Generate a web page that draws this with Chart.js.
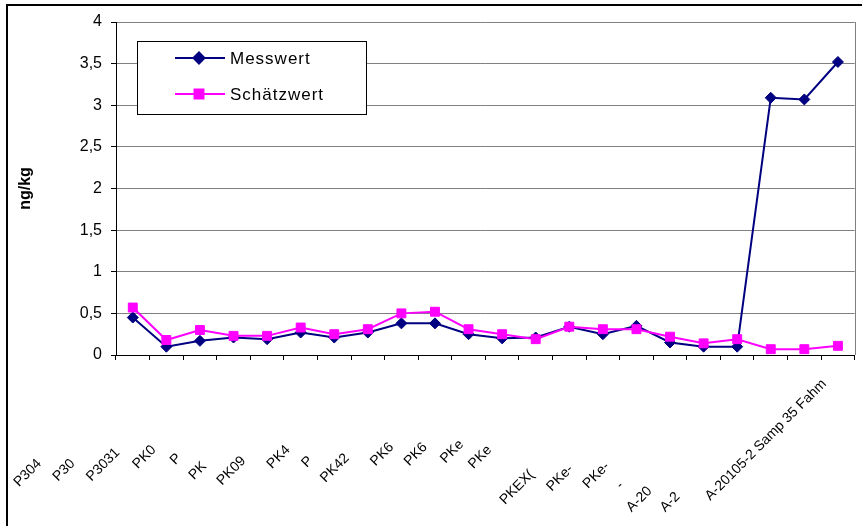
<!DOCTYPE html>
<html>
<head>
<meta charset="utf-8">
<script src="https://cdn.jsdelivr.net/npm/chart.js@4.4.1/dist/chart.umd.min.js"></script>
<style>
  html, body { margin: 0; padding: 0; background: #fff; }
  #chart { display: block; }
</style>
</head>
<body>
<canvas id="chart" width="862" height="526"></canvas>
<script>
// sample names as they show up under the axis (most are cut off in the source)
const categories = ['P304', 'P30', 'P3031', 'PK0', 'P', 'PK', 'PK09', 'PK4', 'P', 'PK42', 'PK6',
  'PK6', 'PKe', 'PKe', '', 'PKEX(', 'PKe-', 'PKe-', '-', 'A-20', 'A-2', 'A-20105-2 Samp 35 Fahm'];

const messwert = [0.45, 0.10, 0.17, 0.21, 0.19, 0.27, 0.21, 0.27, 0.38, 0.38, 0.25,
  0.20, 0.21, 0.34, 0.25, 0.35, 0.15, 0.10, 0.10, 3.09, 3.07, 3.52];
const schaetzwert = [0.57, 0.18, 0.30, 0.23, 0.23, 0.33, 0.25, 0.31, 0.50, 0.52, 0.31,
  0.25, 0.19, 0.34, 0.31, 0.31, 0.22, 0.14, 0.19, 0.07, 0.07, 0.11];

const yTicks = [0, 0.5, 1, 1.5, 2, 2.5, 3, 3.5, 4];

// how far each (mostly hidden) label reaches along the slant, in px
const labelReach = [167, 158, 160, 143, 137, 157, 165, 141, 140, 160, 137,
  139, 134, 140, 0, 190, 174, 171, 170, 204, 201, 185];

const FONT = "'Liberation Sans', Arial, sans-serif";
const xFont = { family: FONT, size: 14 };

const measure = document.createElement('canvas').getContext('2d');
measure.font = '14px ' + FONT;
const padLabel = (text, reach) => {
  if (!text) return '';
  let s = text;
  while (measure.measureText(s + ' ').width <= reach) s += ' ';
  return s;
};

const frame = {
  id: 'frame',
  beforeDraw(chart) {
    const ctx = chart.ctx;
    ctx.save();
    ctx.fillStyle = '#fff';
    ctx.fillRect(0, 0, chart.width, chart.height);
    ctx.restore();
  },
  afterDraw(chart) {
    const ctx = chart.ctx;
    const a = chart.chartArea;
    ctx.save();
    // grey right edge of the plot
    ctx.strokeStyle = '#808080';
    ctx.lineWidth = 1;
    ctx.beginPath();
    ctx.moveTo(Math.round(a.right) + 0.5, a.top);
    ctx.lineTo(Math.round(a.right) + 0.5, a.bottom);
    ctx.stroke();
    // outer frame
    ctx.fillStyle = '#000';
    ctx.fillRect(6, 4, 2, chart.height - 4);
    ctx.fillRect(6, 4, chart.width - 6, 2);
    ctx.restore();
  }
};

const boxLegend = {
  id: 'boxLegend',
  afterDraw(chart) {
    const ctx = chart.ctx;
    const x0 = 137, y0 = 41, w = 229, h = 73;
    ctx.save();
    ctx.fillStyle = '#fff';
    ctx.fillRect(x0, y0, w, h);
    ctx.strokeStyle = '#000';
    ctx.lineWidth = 1;
    ctx.strokeRect(x0 + 0.5, y0 + 0.5, w, h);
    const rows = [58, 94];
    chart.data.datasets.forEach((ds, i) => {
      const y = rows[i];
      ctx.strokeStyle = ds.borderColor;
      ctx.lineWidth = 2;
      ctx.beginPath();
      ctx.moveTo(175, y);
      ctx.lineTo(225, y);
      ctx.stroke();
      ctx.fillStyle = ds.backgroundColor;
      Chart.helpers.drawPoint(ctx, {
        pointStyle: ds.pointStyle, radius: ds.pointRadius, rotation: 0, borderWidth: 1
      }, 199, y);
      ctx.fillStyle = '#000';
      ctx.font = '17px ' + FONT;
      ctx.letterSpacing = '1px';
      ctx.textAlign = 'left';
      ctx.textBaseline = 'middle';
      ctx.fillText(ds.label, 230, y + 1);
    });
    ctx.restore();
  }
};

new Chart(document.getElementById('chart'), {
  type: 'line',
  data: {
    labels: categories,
    datasets: [
      {
        label: 'Messwert',
        data: messwert,
        borderColor: '#000080',
        backgroundColor: '#000080',
        borderWidth: 2,
        pointStyle: 'rectRot',
        pointRadius: 5.5,
        pointBorderWidth: 1,
        order: 1
      },
      {
        label: 'Schätzwert',
        data: schaetzwert,
        borderColor: '#FF00FF',
        backgroundColor: '#FF00FF',
        borderWidth: 2,
        pointStyle: 'rect',
        pointRadius: 6.3,
        pointBorderWidth: 1,
        order: 0
      }
    ]
  },
  options: {
    responsive: false,
    animation: false,
    layout: { padding: { top: 22, right: 5, left: 0, bottom: 0 } },
    plugins: {
      legend: { display: false },
      tooltip: { enabled: false }
    },
    scales: {
      x: {
        type: 'category',
        offset: true,
        grid: { offset: true, drawOnChartArea: false, tickLength: 5, color: '#000' },
        border: { color: '#000', width: 1 },
        ticks: {
          autoSkip: false,
          minRotation: 45,
          maxRotation: 45,
          padding: 2,
          color: '#000',
          font: xFont,
          callback: (v, i) => padLabel(categories[i], labelReach[i])
        },
        afterFit: (scale) => { scale.height = 171; }
      },
      y: {
        min: 0,
        max: 4,
        afterBuildTicks: (scale) => { scale.ticks = yTicks.map((v) => ({ value: v })); },
        grid: { color: '#808080', tickColor: '#000', tickLength: 5, lineWidth: 1 },
        border: { color: '#000', width: 1 },
        ticks: {
          padding: 9,
          color: '#000',
          font: { family: FONT, size: 16 },
          callback: (v) => String(v).replace('.', ',')
        },
        title: {
          display: true,
          text: 'ng/kg',
          color: '#000',
          font: { family: FONT, size: 16, weight: 'bold' },
          padding: { top: 16, bottom: 0 }
        },
        afterFit: (scale) => { scale.width = 116; }
      }
    }
  },
  plugins: [frame, boxLegend]
});
</script>
</body>
</html>
